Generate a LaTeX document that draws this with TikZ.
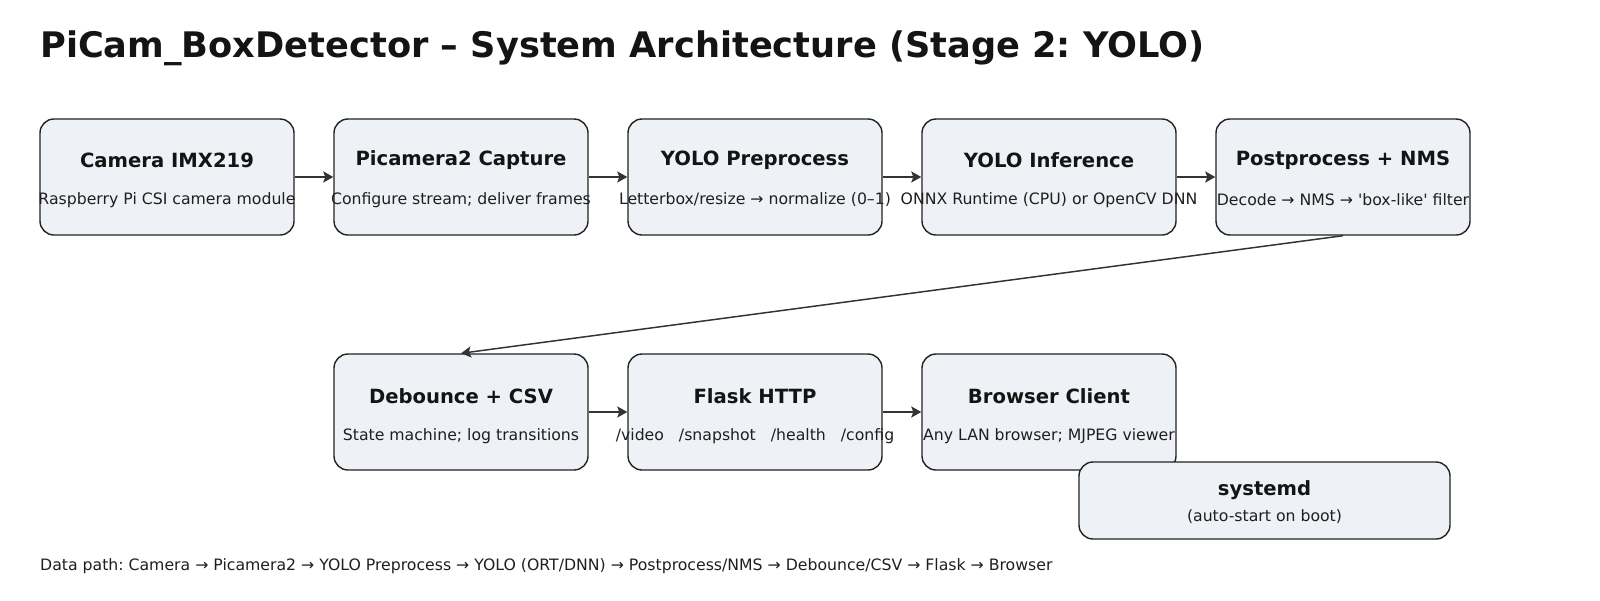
\documentclass[tikz,border=0pt]{standalone}
\usepackage{fontspec}
\setmainfont{DejaVu Sans}
\usetikzlibrary{arrows.meta}
\definecolor{boxfill}{RGB}{238,241,246}
\definecolor{edge}{RGB}{34,34,34}
\definecolor{arr}{RGB}{51,51,51}
\frenchspacing
\begin{document}
\begin{tikzpicture}[x=1pt,y=-1pt,
	blk/.style={draw=edge,line width=1.4pt,fill=boxfill,rounded corners=14pt,minimum width=254pt,minimum height=116pt,inner sep=0pt},
	ttl/.style={font=\fontsize{19.6}{24}\selectfont\bfseries,text=black!92,inner sep=0pt},
	sub/.style={font=\fontsize{15.7}{19}\selectfont,text=black!88,inner sep=0pt},
	flow/.style={-{Stealth[length=10pt,width=11pt,inset=2pt]},arr,line width=2.6pt}]
	\useasboundingbox (0,0) rectangle (1600,600);
	% title
	\node[anchor=base west,inner sep=0pt,font=\fontsize{35.2}{40}\selectfont\bfseries,text=black!92] (head) at (40,57) {PiCam\_BoxDetector – System Architecture (Stage 2: YOLO)};
	% row 1
	\def\blkA#1#2#3#4{\node[blk] (#1) at (#2,177) {};
		\node[ttl] (#1t) at (#2,160) {#3};
		\node[sub] (#1s) at (#2,200) {#4};}
	\blkA{cam}{167}{Camera IMX219}{Raspberry Pi CSI camera module}
	\blkA{cap}{461}{Picamera2 Capture}{Configure stream; deliver frames}
	\blkA{pre}{755}{YOLO Preprocess}{Letterbox/resize → normalize (0–1)}
	\blkA{inf}{1049}{YOLO Inference}{ONNX Runtime (CPU) or OpenCV DNN}
	\blkA{post}{1343}{Postprocess + NMS}{Decode → NMS → \textquotesingle box-like\textquotesingle{} filter}
	% row 2
	\def\blkB#1#2#3#4{\node[blk] (#1) at (#2,412) {};
		\node[ttl] (#1t) at (#2,396) {#3};
		\node[sub] (#1s) at (#2,436) {#4};}
	\blkB{deb}{461}{Debounce + CSV}{State machine; log transitions}
	\blkB{web}{755}{Flask HTTP}{/video\hspace{15pt}/snapshot\hspace{15pt}/health\hspace{15pt}/config}
	\blkB{cli}{1049}{Browser Client}{Any LAN browser; MJPEG viewer}
	% systemd
	\node[blk,minimum width=371pt,minimum height=77pt] (sysd) at (1264.5,500.5) {};
	\node[ttl] (sysdt) at (1264.5,490) {systemd};
	\node[sub] (sysds) at (1264.5,517) {(auto-start on boot)};
	% arrows
	\draw[flow] (cam) -- (cap);
	\draw[flow] (cap) -- (pre);
	\draw[flow] (pre) -- (inf);
	\draw[flow] (inf) -- (post);
	\draw[flow,line width=1.5pt] (post.south) -- (deb.north);
	\draw[flow] (deb) -- (web);
	\draw[flow] (web) -- (cli);
	% footer
	\node[anchor=west,inner sep=0pt,font=\fontsize{15.7}{19}\selectfont,text=black!88] (foot) at (40,566) {Data path: Camera → Picamera2 → YOLO Preprocess → YOLO (ORT/DNN) → Postprocess/NMS → Debounce/CSV → Flask → Browser};
\end{tikzpicture}
\end{document}
